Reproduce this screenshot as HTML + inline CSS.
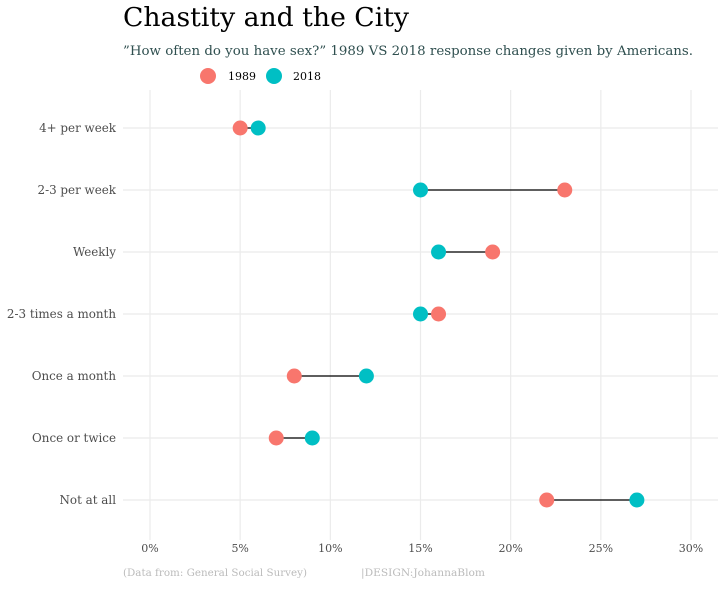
<!DOCTYPE html>
<html><head><meta charset="utf-8"><style>
body{margin:0;background:#fff;}
svg text{font-family:"DejaVu Serif","Liberation Serif",serif;}
</style></head><body>
<svg id="chart" width="726" height="585" xmlns="http://www.w3.org/2000/svg">
<text x="123" y="26" font-size="26" fill="#000" textLength="286" lengthAdjust="spacingAndGlyphs">Chastity and the City</text>
<text x="123" y="55" font-size="13" fill="#2f4f4f" textLength="570" lengthAdjust="spacingAndGlyphs">”How often do you have sex?” 1989 VS 2018 response changes given by Americans.</text>
<g>
<circle cx="208" cy="76" r="8" fill="#F8766D"/>
<text x="228" y="80" font-size="11" fill="#000">1989</text>
<circle cx="274" cy="76" r="8" fill="#00BFC4"/>
<text x="293" y="80" font-size="11" fill="#000">2018</text>
</g>
<g id="grid"></g>
<g id="marks"></g>
<g id="axes"></g>
<text x="123" y="576" font-size="10" fill="#bbb" textLength="184" lengthAdjust="spacingAndGlyphs">(Data from: General Social Survey)</text>
<text x="361" y="576" font-size="10" fill="#bbb" textLength="124" lengthAdjust="spacingAndGlyphs">|DESIGN:JohannaBlom</text>
</svg>
<script>
const categories=["4+ per week","2-3 per week","Weekly","2-3 times a month","Once a month","Once or twice","Not at all"];
const values1989=[5,23,19,16,8,7,22];
const values2018=[6,15,16,15,12,9,27];
const tickValues=[0,5,10,15,20,25,30];
const tickLabels=["0%","5%","10%","15%","20%","25%","30%"];
const NS="http://www.w3.org/2000/svg";
const x=v=>150+v*(691-150)/30;
const y=i=>128+i*62;
function mk(t,a,p){const e=document.createElementNS(NS,t);for(const k in a)e.setAttribute(k,a[k]);p.appendChild(e);return e;}
const grid=document.getElementById('grid'),marks=document.getElementById('marks'),axes=document.getElementById('axes');
tickValues.forEach((v,i)=>{
 const l=mk('line',{x1:x(v),x2:x(v),y1:90,y2:540,stroke:'#ebebeb','stroke-width':1.2},grid);
 
 
 const t=mk('text',{x:x(v),y:552,'font-size':11,fill:'#4d4d4d','text-anchor':'middle'},axes);
 t.textContent=tickLabels[i];
 
 
});
categories.forEach((c,i)=>{
 const g=mk('line',{x1:123,x2:718,y1:y(i),y2:y(i),stroke:'#ebebeb','stroke-width':1.2},grid);
 
 
 const t=mk('text',{x:116,y:y(i)+4,'font-size':11.9,fill:'#4d4d4d','text-anchor':'end'},axes);
 t.textContent=c;
 
 
 const s=mk('line',{x1:x(values1989[i]),x2:x(values2018[i]),y1:y(i),y2:y(i),stroke:'#000','stroke-width':1.2},marks);
 
 
 const a=mk('circle',{cx:x(values1989[i]),cy:y(i),r:7.5,fill:'#F8766D'},marks);
 
 
 const b=mk('circle',{cx:x(values2018[i]),cy:y(i),r:7.5,fill:'#00BFC4'},marks);
 
 
});
</script>
</body></html>
